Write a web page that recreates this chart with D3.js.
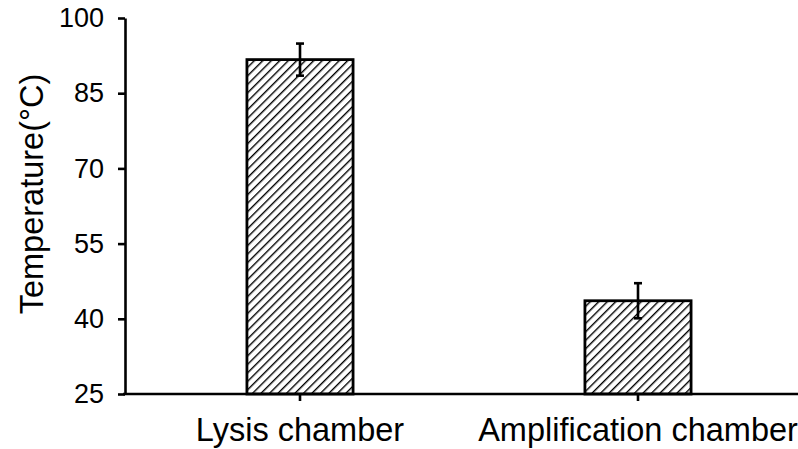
<!DOCTYPE html>
<html>
<head>
<meta charset="utf-8">
<script src="https://cdn.jsdelivr.net/npm/d3@7/dist/d3.min.js"></script>
<style>
  html, body { margin: 0; padding: 0; background: #fff; }
  svg { display: block; font-family: "Liberation Sans", Arial, sans-serif; }
</style>
</head>
<body>
<svg id="chart" width="798" height="449"></svg>
<script>
// Measured chamber temperatures (mean ± SD)
const categories = ["Lysis chamber", "Amplification chamber"];
const meanTemp = [91.7, 43.6];
const errTemp = [3.2, 3.5];
const yTicks = [25, 40, 55, 70, 85, 100];

const svg = d3.select("#chart");
const axisX = 125, yTop = 18, yBottom = 394;

const y = d3.scaleLinear().domain([25, 100]).range([yBottom, yTop]);
const x = d3.scaleBand().domain(categories).range([131, 807]).paddingInner(0.686).paddingOuter(0.343);

// Diagonal hatch fill for the bars
const defs = svg.append("defs");
const pat = defs.append("pattern")
  .attr("id", "hatch").attr("patternUnits", "userSpaceOnUse")
  .attr("width", 6).attr("height", 6)
  .attr("patternTransform", "rotate(45)");
pat.append("rect").attr("width", 6).attr("height", 6).attr("fill", "#fff");
pat.append("line").attr("x1", 0).attr("y1", 0).attr("x2", 0).attr("y2", 6)
  .attr("stroke", "#000").attr("stroke-width", 2.8);

// Bars
svg.append("g").selectAll("rect").data(categories).join("rect")
  .attr("x", d => x(d))
  .attr("y", (d, i) => y(meanTemp[i]))
  .attr("width", x.bandwidth())
  .attr("height", (d, i) => yBottom - y(meanTemp[i]))
  .attr("fill", "url(#hatch)")
  .attr("stroke", "#000").attr("stroke-width", 2.8);

// Error bars
const eb = svg.append("g").attr("stroke", "#000").attr("stroke-width", 2.6);
categories.forEach((c, i) => {
  const cx = x(c) + x.bandwidth() / 2;
  eb.append("line").attr("x1", cx).attr("x2", cx)
    .attr("y1", y(meanTemp[i] + errTemp[i])).attr("y2", y(meanTemp[i] - errTemp[i]));
  eb.append("line").attr("x1", cx - 4).attr("x2", cx + 4)
    .attr("y1", y(meanTemp[i] + errTemp[i])).attr("y2", y(meanTemp[i] + errTemp[i]));
  eb.append("line").attr("x1", cx - 4).attr("x2", cx + 4)
    .attr("y1", y(meanTemp[i] - errTemp[i])).attr("y2", y(meanTemp[i] - errTemp[i]));
});

// Y axis
const yAxis = svg.append("g").attr("transform", `translate(${axisX},0)`)
  .call(d3.axisLeft(y).tickValues(yTicks).tickSize(7).tickPadding(14).tickSizeOuter(0));
yAxis.select(".domain").attr("stroke-width", 2.6);
yAxis.selectAll(".tick line").attr("stroke-width", 2.6);
yAxis.selectAll(".tick text").attr("font-size", 27).attr("fill", "#000")
  .attr("font-family", "Liberation Sans, Arial, sans-serif");

// X axis
const xAxis = svg.append("g").attr("transform", `translate(0,${yBottom})`)
  .call(d3.axisBottom(x).tickSize(7).tickPadding(17).tickSizeOuter(0));
xAxis.select(".domain").attr("d", `M${axisX - 2},0H810`).attr("stroke-width", 2.6);
xAxis.selectAll(".tick line").attr("stroke-width", 2.6);
xAxis.selectAll(".tick text").attr("font-size", 32.5).attr("fill", "#000")
  .attr("font-family", "Liberation Sans, Arial, sans-serif");

// Y axis title
svg.append("text")
  .attr("transform", `translate(43,194) rotate(-90)`)
  .attr("text-anchor", "middle")
  .attr("font-size", 32.5)
  .text("Temperature(°C)");
</script>
</body>
</html>
